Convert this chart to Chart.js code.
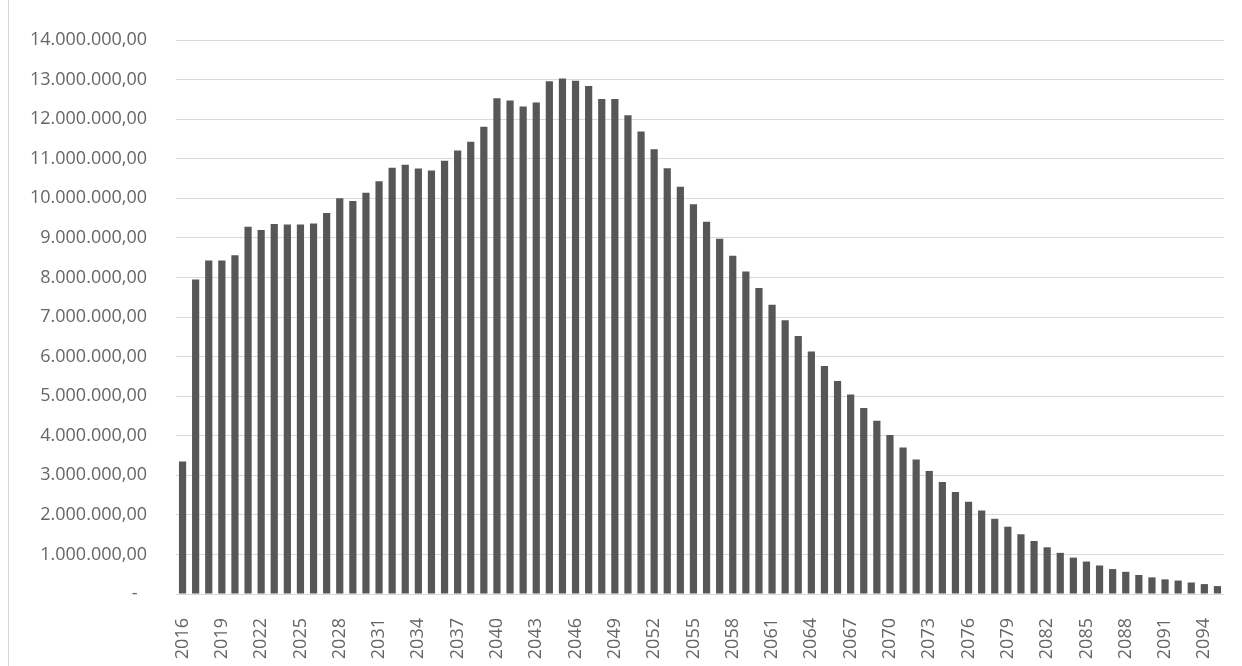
<!DOCTYPE html>
<html>
<head>
<meta charset="utf-8">
<script src="https://cdn.jsdelivr.net/npm/chart.js@4.4.1/dist/chart.umd.min.js"></script>
<style>
  html, body { margin: 0; padding: 0; background: #fff; }
  #wrap { position: relative; width: 1242px; height: 666px; }
  #edge { position: absolute; left: 8px; top: 0; width: 1px; height: 666px; background: #d6d6d6; }
  canvas { position: absolute; left: 0; top: 0; }
</style>
</head>
<body>
<div id="wrap">
  <div id="edge"></div>
  <canvas id="chart" width="1242" height="666"></canvas>
</div>
<script>
// years 2016 .. 2095
const years = [
  '2016','2017','2018','2019','2020','2021','2022','2023','2024','2025',
  '2026','2027','2028','2029','2030','2031','2032','2033','2034','2035',
  '2036','2037','2038','2039','2040','2041','2042','2043','2044','2045',
  '2046','2047','2048','2049','2050','2051','2052','2053','2054','2055',
  '2056','2057','2058','2059','2060','2061','2062','2063','2064','2065',
  '2066','2067','2068','2069','2070','2071','2072','2073','2074','2075',
  '2076','2077','2078','2079','2080','2081','2082','2083','2084','2085',
  '2086','2087','2088','2089','2090','2091','2092','2093','2094','2095'
];

// values
const values = [
  3350000, 7950000, 8430000, 8430000, 8560000, 9280000, 9200000, 9350000, 9340000, 9340000,
  9360000, 9630000, 10000000, 9930000, 10140000, 10430000, 10770000, 10850000, 10750000, 10700000,
  10950000, 11210000, 11430000, 11810000, 12530000, 12470000, 12320000, 12420000, 12960000, 13030000,
  12970000, 12840000, 12510000, 12510000, 12100000, 11690000, 11240000, 10760000, 10290000, 9850000,
  9410000, 8980000, 8550000, 8150000, 7730000, 7310000, 6920000, 6520000, 6130000, 5760000,
  5380000, 5040000, 4700000, 4380000, 4020000, 3700000, 3400000, 3110000, 2830000, 2580000,
  2330000, 2110000, 1900000, 1700000, 1510000, 1340000, 1180000, 1040000, 920000, 820000,
  720000, 630000, 560000, 480000, 420000, 370000, 340000, 290000, 250000, 200000
];

// y tick labels, one per million
const yTickLabels = [
  '-  ', '1.000.000,00', '2.000.000,00', '3.000.000,00', '4.000.000,00',
  '5.000.000,00', '6.000.000,00', '7.000.000,00', '8.000.000,00', '9.000.000,00',
  '10.000.000,00', '11.000.000,00', '12.000.000,00', '13.000.000,00', '14.000.000,00'
];

const labelFont = { family: 'Open Sans', size: 18 };
const labelColor = '#666666';

new Chart(document.getElementById('chart').getContext('2d'), {
  type: 'bar',
  data: {
    labels: years,
    datasets: [{
      data: values,
      backgroundColor: '#575757',
      borderWidth: 0,
      categoryPercentage: 1,
      barPercentage: 0.55
    }]
  },
  options: {
    responsive: false,
    animation: false,
    layout: { padding: { left: 0, right: 18, top: 40, bottom: 0 } },
    plugins: {
      legend: { display: false },
      tooltip: { enabled: false }
    },
    scales: {
      x: {
        grid: { display: false },
        border: { display: false },
        ticks: {
          autoSkip: false,
          minRotation: 90,
          maxRotation: 90,
          padding: 16,
          color: labelColor,
          font: labelFont,
          callback: (v, i) => (i % 3 === 0 ? years[i] : '')
        },
        afterFit: (scale) => {
          scale.height = 72;
          scale.paddingLeft = 0;
          scale.paddingRight = 0;
        }
      },
      y: {
        min: 0,
        max: 14000000,
        grid: { color: '#d9d9d9', lineWidth: 1, drawTicks: false },
        border: { display: false },
        ticks: {
          stepSize: 1000000,
          padding: 29,
          color: labelColor,
          font: labelFont,
          callback: (v) => yTickLabels[Math.round(v / 1000000)]
        },
        afterFit: (scale) => { scale.width = 176; }
      }
    }
  }
});
</script>
</body>
</html>
